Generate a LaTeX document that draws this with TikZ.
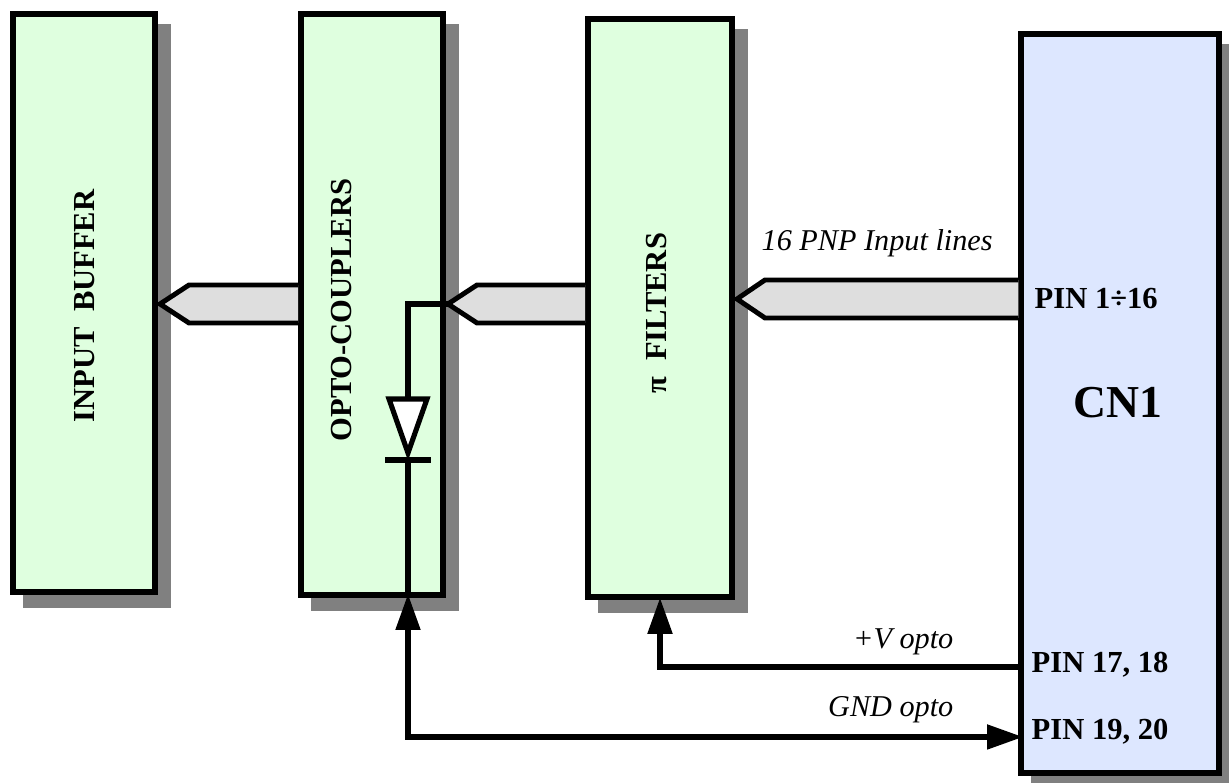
\documentclass[tikz,border=0pt]{standalone}
\usepackage{fontspec}
\setmainfont{Liberation Serif}
\usetikzlibrary{arrows.meta,shadows,calc}

\definecolor{boxgreen}{HTML}{DFFFDF}
\definecolor{boxblue}{HTML}{DDE7FF}
\definecolor{busgray}{HTML}{DEDEDE}
\definecolor{shadowgray}{HTML}{808080}

\tikzset{
  blockbox/.style={draw,line width=1.6pt,inner sep=0pt,
    drop shadow={shadow xshift=.13cm,shadow yshift=-.13cm,draw=shadowgray,fill=shadowgray,opacity=1}},
  blocktext/.style={font=\fontsize{8.7}{10}\selectfont\bfseries,inner sep=0pt},
  linetext/.style={font=\fontsize{8.6}{10}\selectfont\itshape,inner sep=0pt},
  bus/.style={draw,fill=busgray,line width=1.4pt,miter limit=10},
  wire/.style={draw,line width=1.45pt},
  wiretip/.style={-{Triangle[length=3.6mm,width=2.4mm]}},
  bothtips/.style={{Triangle[length=3.6mm,width=2.4mm]}-{Triangle[length=3.6mm,width=2.4mm]}}
}

\begin{document}
\begin{tikzpicture}
\useasboundingbox (0,0) rectangle (12.29,7.83);

\node[blockbox,fill=boxgreen,minimum width=1.42cm,minimum height=5.78cm] (buffer) at (.84,4.80) {};
\node[blockbox,fill=boxgreen,minimum width=1.42cm,minimum height=5.81cm] (opto) at (3.72,4.785) {};
\node[blockbox,fill=boxgreen,minimum width=1.44cm,minimum height=5.78cm] (filters) at (6.60,4.75) {};
\node[blockbox,fill=boxblue,minimum width=1.975cm,minimum height=7.39cm] (cn1) at (11.20,3.795) {};

\node[blocktext,rotate=90] (buffertext) at (.85,4.77) {INPUT\ \ BUFFER};
\node[blocktext,rotate=90] (optotext) at (3.42,4.73) {OPTO-COUPLERS};
\node[blocktext,rotate=90] (filterstext) at (6.57,4.70) {π\ \ FILTERS};

\node[blocktext,font=\fontsize{13}{14}\selectfont\bfseries] (cn1text) at (11.18,3.80) {CN1};
\node[blocktext,anchor=west] (pin1) at (10.34,4.84) {PIN 1÷16};
\node[blocktext,anchor=west] (pin17) at (10.31,1.18) {PIN 17, 18};
\node[blocktext,anchor=west] (pin19) at (10.31,.51) {PIN 19, 20};

\node[linetext,anchor=west] (inputlines) at (7.61,5.40) {16 PNP Input lines};
\node[linetext,anchor=east] (vopto) at (9.54,1.41) {+V opto};
\node[linetext,anchor=east] (gndopto) at (9.54,.73) {GND opto};

% buses
\draw[bus] (cn1.west |- 0,5.03) -- (7.65,5.03) -- (7.37,4.84) -- (7.65,4.65) -- (cn1.west |- 0,4.65);
\draw[bus] (filters.west |- 0,4.98) -- (4.77,4.98) -- (4.48,4.79) -- (4.77,4.60) -- (filters.west |- 0,4.60);
\draw[bus] (opto.west |- 0,4.98) -- (1.89,4.98) -- (1.60,4.79) -- (1.89,4.60) -- (opto.west |- 0,4.60);

% diode
\coordinate (diodetop) at (4.08,3.84);
\coordinate (diodebar) at (4.08,3.23);
\coordinate (optotip) at (4.08,1.89);
\coordinate (gndturn) at (4.08,.46);
\coordinate (gndend) at (10.23,.46);
\coordinate (voptoend) at (10.21,1.16);

\draw[wire] (4.48,4.79) -- (4.08,4.79) -- (diodetop);
\draw[wire,fill=white,miter limit=10] (3.89,3.84) -- (4.27,3.84) -- (diodebar |- 0,3.30) -- cycle;
\draw[wire] (3.85,3.23) -- (4.31,3.23);
\draw[wire] (diodebar) -- (4.08,1.90);

\draw[wire,bothtips] (optotip) -- (gndturn) -- (gndend);
\draw[wire,wiretip] (voptoend) -| ($(filters.south)+(0,.02)$);
\end{tikzpicture}
\end{document}
